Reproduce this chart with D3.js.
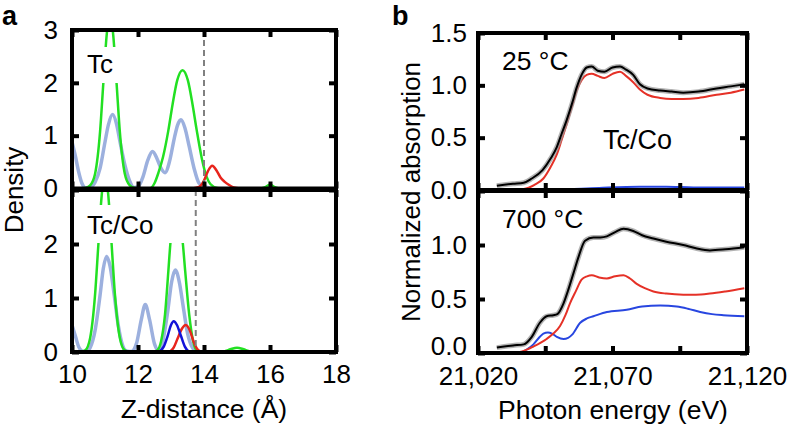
<!DOCTYPE html>
<html><head><meta charset="utf-8">
<script src="https://cdn.jsdelivr.net/npm/d3@7"></script>
<style>
body{margin:0;background:#fff;}
svg{display:block;font-family:"Liberation Sans",Arial,Helvetica,sans-serif;}
</style></head>
<body><svg id="c" width="788" height="427"></svg>
<script>
// ---------- Panel a data: Z-distance (Å) vs density ----------
const aXTicks = [10, 12, 14, 16, 18];
const aYTicksTop = [0, 1, 2, 3];
const aYTicksBot = [0, 1, 2];
const tcDashed = 14.0;
const tccoDashed = 13.75;

const tcGreen = [[10,0],[10.3,0],[10.4,0.01],[10.55,0.06],[10.7,0.28],[10.85,1.07],[10.95,2.0],[11.05,2.9],[11.15,3.3],[11.25,2.9],[11.35,2.0],[11.45,1.07],[11.6,0.28],[11.75,0.06],[11.9,0.01],[12.1,0],[12.35,0],[12.5,0.1],[12.62,0.3],[12.76,0.6],[12.92,1.1],[13.05,1.6],[13.19,2.05],[13.35,2.24],[13.51,2.05],[13.65,1.6],[13.78,1.1],[13.94,0.55],[14.08,0.22],[14.2,0.08],[14.4,0.01],[14.6,0],[15.7,0],[15.85,0.025],[16.0,0.07],[16.15,0.025],[16.3,0],[18,0]];
const tcLightBlue = [[10,0.88],[10.1,0.62],[10.2,0.32],[10.3,0.1],[10.42,0.01],[10.55,0.02],[10.7,0.12],[10.85,0.38],[11.0,0.88],[11.1,1.2],[11.23,1.4],[11.35,1.22],[11.45,0.9],[11.6,0.45],[11.75,0.14],[11.88,0.02],[12.0,0.03],[12.15,0.22],[12.3,0.54],[12.44,0.7],[12.58,0.56],[12.7,0.38],[12.82,0.3],[12.95,0.5],[13.1,0.95],[13.2,1.2],[13.3,1.3],[13.42,1.15],[13.55,0.8],[13.7,0.38],[13.85,0.1],[14.0,0.04],[14.15,0.01],[14.3,0]];
const tcRed = [[13.65,0],[13.85,0.03],[14.0,0.15],[14.12,0.33],[14.25,0.43],[14.38,0.34],[14.5,0.21],[14.62,0.13],[14.75,0.07],[14.9,0.02],[15.1,0]];

const tccoGreen = [[10,0],[10.25,0],[10.4,0.03],[10.55,0.26],[10.7,1.07],[10.8,2.0],[10.9,2.9],[11.0,3.3],[11.1,2.9],[11.2,2.0],[11.3,1.07],[11.45,0.26],[11.6,0.03],[11.75,0],[12.45,0],[12.58,0.03],[12.7,0.2],[12.82,0.7],[12.92,1.5],[12.98,2.0],[13.08,2.5],[13.17,2.65],[13.26,2.5],[13.36,2.0],[13.43,1.5],[13.55,0.7],[13.67,0.2],[13.8,0.02],[13.95,0],[14.5,0],[14.65,0.02],[14.8,0.05],[15.0,0.08],[15.2,0.05],[15.35,0.02],[15.5,0],[18,0]];
const tccoLightBlue = [[10,0.5],[10.1,0.3],[10.2,0.1],[10.3,0.02],[10.42,0],[10.55,0.08],[10.7,0.4],[10.85,1.05],[10.95,1.55],[11.05,1.77],[11.15,1.6],[11.28,1.05],[11.4,0.5],[11.52,0.15],[11.65,0.02],[11.8,0.01],[11.95,0.15],[12.1,0.6],[12.22,0.88],[12.35,0.6],[12.5,0.15],[12.62,0.03],[12.75,0.2],[12.9,0.75],[13.02,1.3],[13.13,1.52],[13.25,1.3],[13.38,0.8],[13.5,0.35],[13.65,0.08],[13.8,0]];
const tccoBlue = [[12.62,0],[12.78,0.1],[12.9,0.3],[13.0,0.5],[13.08,0.57],[13.18,0.5],[13.3,0.3],[13.42,0.1],[13.55,0]];
const tccoRed = [[12.95,0],[13.08,0.08],[13.2,0.25],[13.33,0.43],[13.45,0.5],[13.57,0.4],[13.68,0.2],[13.8,0.05],[13.92,0]];

// ---------- Panel b data: photon energy (eV) vs normalized absorption ----------
const bXTicks = [21020, 21045, 21070, 21095, 21120];
const bXLabels = ["21,020", "", "21,070", "", "21,120"];
const bYTicks = [0, 0.5, 1.0, 1.5];
const bYTicksBot = [0, 0.5, 1.0];

const black25 = [[21027,0.04],[21033,0.06],[21037,0.07],[21040,0.11],[21044,0.19],[21047,0.3],[21049.3,0.41],[21051,0.53],[21053,0.67],[21055,0.83],[21056.7,0.98],[21058.5,1.1],[21060.4,1.17],[21062.3,1.18],[21064.5,1.14],[21067,1.13],[21070,1.17],[21072.8,1.18],[21075,1.15],[21077.7,1.1],[21080.2,1.01],[21083,0.97],[21087.7,0.95],[21092,0.94],[21096.3,0.93],[21102,0.94],[21108.7,0.97],[21114,0.99],[21119,1.01]];
const red25 = [[21031,0],[21037,0.01],[21041,0.05],[21044.3,0.11],[21047,0.22],[21049.3,0.34],[21051,0.47],[21053,0.63],[21055,0.8],[21056.7,0.95],[21058.5,1.05],[21060.4,1.1],[21062.3,1.11],[21064.5,1.09],[21067,1.07],[21070,1.11],[21072.8,1.13],[21075,1.09],[21077.7,1.03],[21080.2,0.96],[21083,0.91],[21087.7,0.88],[21092,0.87],[21096.3,0.87],[21102,0.88],[21108.7,0.91],[21114,0.93],[21119,0.96]];
const blue25 = [[21035,0],[21050,0.005],[21065,0.02],[21080,0.03],[21090,0.03],[21100,0.025],[21119,0.025]];

const black700 = [[21027,0.05],[21033,0.07],[21037,0.08],[21040,0.15],[21043,0.28],[21045.5,0.34],[21048,0.35],[21049.5,0.36],[21051.8,0.46],[21053.5,0.58],[21055.5,0.74],[21057.5,0.9],[21059.8,1.04],[21062.9,1.07],[21065.5,1.07],[21067.9,1.08],[21071,1.12],[21074.1,1.15],[21077.7,1.13],[21081,1.09],[21085.2,1.06],[21090,1.03],[21096.3,1.0],[21101,0.97],[21106.2,0.95],[21112,0.96],[21119,0.98]];
const red700 = [[21032,0],[21037,0.02],[21040.6,0.06],[21045.5,0.13],[21048,0.18],[21050.5,0.25],[21052.5,0.35],[21054.2,0.46],[21056.5,0.58],[21058.5,0.68],[21060.5,0.71],[21062.3,0.72],[21065,0.7],[21067.9,0.69],[21071,0.71],[21074.1,0.72],[21076.5,0.69],[21079,0.64],[21082,0.6],[21085.2,0.57],[21090,0.55],[21096.3,0.54],[21101,0.54],[21106.2,0.55],[21112,0.57],[21119,0.6]];
const blue700 = [[21035.6,0],[21038,0.03],[21040.6,0.08],[21043,0.15],[21044.3,0.18],[21046,0.19],[21047.5,0.18],[21049.3,0.15],[21051.8,0.13],[21053.5,0.14],[21055,0.17],[21058,0.28],[21060.5,0.32],[21062.9,0.34],[21067.9,0.38],[21075.3,0.4],[21081,0.43],[21087.7,0.44],[21093.9,0.43],[21098,0.41],[21102.6,0.38],[21107,0.36],[21111.2,0.35],[21119,0.34]];

// ---------- Drawing ----------
const svg = d3.select("#c");
const FS = 26;
const C = {green:"#22e022", lightblue:"#9cb0de", red:"#e8241c", blue:"#1313d8",
           bred:"#e53127", bblue:"#2846e0"};

const xA = d3.scaleLinear([10,18],[72,336]);
const yAt = d3.scaleLinear([0,3],[188.5,30]);
const yAb = d3.scaleLinear([0,3],[352,190]);
const xB = d3.scaleLinear([21020,21120],[478,747]);
const yBt = d3.scaleLinear([0,1.5],[190,33]);
const yBb = d3.scaleLinear([0,1.5],[353,191]);

let clipId = 0;
function panel(x, y, series, opts) {
  const [x0,x1] = x.range(), [y0,y1] = y.range();
  const id = "clip" + (clipId++);
  svg.append("clipPath").attr("id", id).append("rect")
    .attr("x", x0).attr("y", y1).attr("width", x1-x0).attr("height", y0-y1);
  const g = svg.append("g");
  const cg = g.append("g").attr("clip-path", `url(#${id})`);
  const line = d3.line().x(d=>x(d[0])).y(d=>y(d[1])).curve(d3.curveMonotoneX);
  series.forEach(s => {
    if (s.halo) cg.append("path").attr("d", line(s.data)).attr("fill","none")
      .attr("stroke","#9a9a9a").attr("stroke-width",5).attr("stroke-opacity",0.75);
    cg.append("path").attr("d", line(s.data)).attr("fill","none")
      .attr("stroke", s.color).attr("stroke-width", s.w || 2.5)
      .attr("stroke-linejoin","round");
  });
  if (opts.dashed !== undefined) {
    cg.append("line").attr("x1", x(opts.dashed)).attr("x2", x(opts.dashed))
      .attr("y1", y1).attr("y2", y0).attr("stroke","#808080")
      .attr("stroke-width",2).attr("stroke-dasharray","6,4");
  }
  if (opts.box) {
    g.append("rect").attr("x", opts.box[0]).attr("y", opts.box[1])
      .attr("width", opts.box[2]).attr("height", opts.box[3]).attr("fill","#fff");
  }
  (opts.labels||[]).forEach(l => {
    g.append("text").attr("x", l.x).attr("y", l.y).attr("font-size", l.fs || FS)
      .attr("fill","#000").text(l.t);
  });
  // frame
  g.append("rect").attr("x", x0).attr("y", y1).attr("width", x1-x0).attr("height", y0-y1)
    .attr("fill","none").attr("stroke","#000").attr("stroke-width",4);
  const tk = 7;
  function styleAxis(sel){
    sel.select(".domain").remove();
    sel.selectAll(".tick line").attr("stroke","#000").attr("stroke-width",4);
    sel.selectAll(".tick text").attr("font-size", FS).attr("fill","#000")
      .attr("font-family",'"Liberation Sans",Arial,Helvetica,sans-serif');
  }
  const la = g.append("g").attr("transform",`translate(${x0},0)`)
    .call(d3.axisLeft(y).tickValues(opts.yTicks).tickSizeInner(-tk).tickSizeOuter(0)
      .tickPadding(opts.yPad).tickFormat(opts.yFmt)).call(styleAxis);
  la.selectAll(".tick").filter(d => !opts.yLabels.includes(d)).select("text").remove();
  if (opts.zeroDy) la.selectAll(".tick").filter(d => d === 0).select("text").attr("dy", opts.zeroDy);
  g.append("g").attr("transform",`translate(${x1},0)`)
    .call(d3.axisRight(y).tickValues(opts.yTicks).tickSizeInner(-tk).tickSizeOuter(0)
      .tickFormat("")).call(styleAxis);
  g.append("g").attr("transform",`translate(0,${y1})`)
    .call(d3.axisTop(x).tickValues(opts.xTicks).tickSizeInner(-tk).tickSizeOuter(0)
      .tickFormat("")).call(styleAxis);
  g.append("g").attr("transform",`translate(0,${y0})`)
    .call(d3.axisBottom(x).tickValues(opts.xTicks).tickSizeInner(-tk).tickSizeOuter(0)
      .tickPadding(opts.xPad).tickFormat(opts.xFmt || "")).call(styleAxis);
}

// Panel a top
panel(xA, yAt, [
  {data: tcLightBlue, color: C.lightblue, w: 3.5},
  {data: tcGreen, color: C.green},
  {data: tcRed, color: C.red}
], {dashed: tcDashed, box:[78,47,70,36], labels:[{x:87,y:73,t:"Tc"}],
    xTicks: aXTicks, yTicks: aYTicksTop, yLabels: aYTicksTop, yPad: 14, yFmt: d3.format("d")});
// Panel a bottom
panel(xA, yAb, [
  {data: tccoLightBlue, color: C.lightblue, w: 3.5},
  {data: tccoGreen, color: C.green},
  {data: tccoRed, color: C.red},
  {data: tccoBlue, color: C.blue}
], {dashed: tccoDashed, box:[78,205,112,38], labels:[{x:87,y:234,t:"Tc/Co"}],
    xTicks: aXTicks, yTicks: aYTicksTop, yLabels: aYTicksBot, yPad: 14, yFmt: d3.format("d"),
    xPad: 13, xFmt: d3.format("d")});
// Panel b top
panel(xB, yBt, [
  {data: blue25, color: C.bblue, w: 2},
  {data: red25, color: C.bred, w: 2},
  {data: black25, color: "#000", w: 2, halo: true}
], {labels:[{x:502,y:70,t:"25 °C", fs:26.5},{x:603,y:149,t:"Tc/Co", fs:27}],
    xTicks: bXTicks, yTicks: bYTicks, yLabels: bYTicks, yPad: 11, yFmt: d3.format(".1f")});
// Panel b bottom
panel(xB, yBb, [
  {data: blue700, color: C.bblue, w: 2},
  {data: red700, color: C.bred, w: 2},
  {data: black700, color: "#000", w: 2, halo: true}
], {labels:[{x:502,y:228,t:"700 °C", fs:26.5}],
    xTicks: bXTicks, yTicks: bYTicks, yLabels: bYTicksBot, yPad: 11, yFmt: d3.format(".1f"),
    zeroDy: "0.05em", xPad: 14, xFmt: (d,i) => bXLabels[i]});

// Axis titles and panel letters
svg.append("text").attr("x", 204).attr("y", 418).attr("text-anchor","middle")
  .attr("font-size", 26.5).text("Z-distance (Å)");
svg.append("text").attr("x", 613).attr("y", 419).attr("text-anchor","middle")
  .attr("font-size", 26.5).text("Photon energy (eV)");
svg.append("text").attr("transform","translate(23,190) rotate(-90)").attr("text-anchor","middle")
  .attr("font-size", FS).text("Density");
svg.append("text").attr("transform","translate(420,192) rotate(-90)").attr("text-anchor","middle")
  .attr("font-size", FS).text("Normalized absorption");
svg.append("text").attr("x", 2).attr("y", 25).attr("font-size", 27).attr("font-weight","bold").text("a");
svg.append("text").attr("x", 392).attr("y", 25).attr("font-size", 27).attr("font-weight","bold").text("b");
</script></body></html>
